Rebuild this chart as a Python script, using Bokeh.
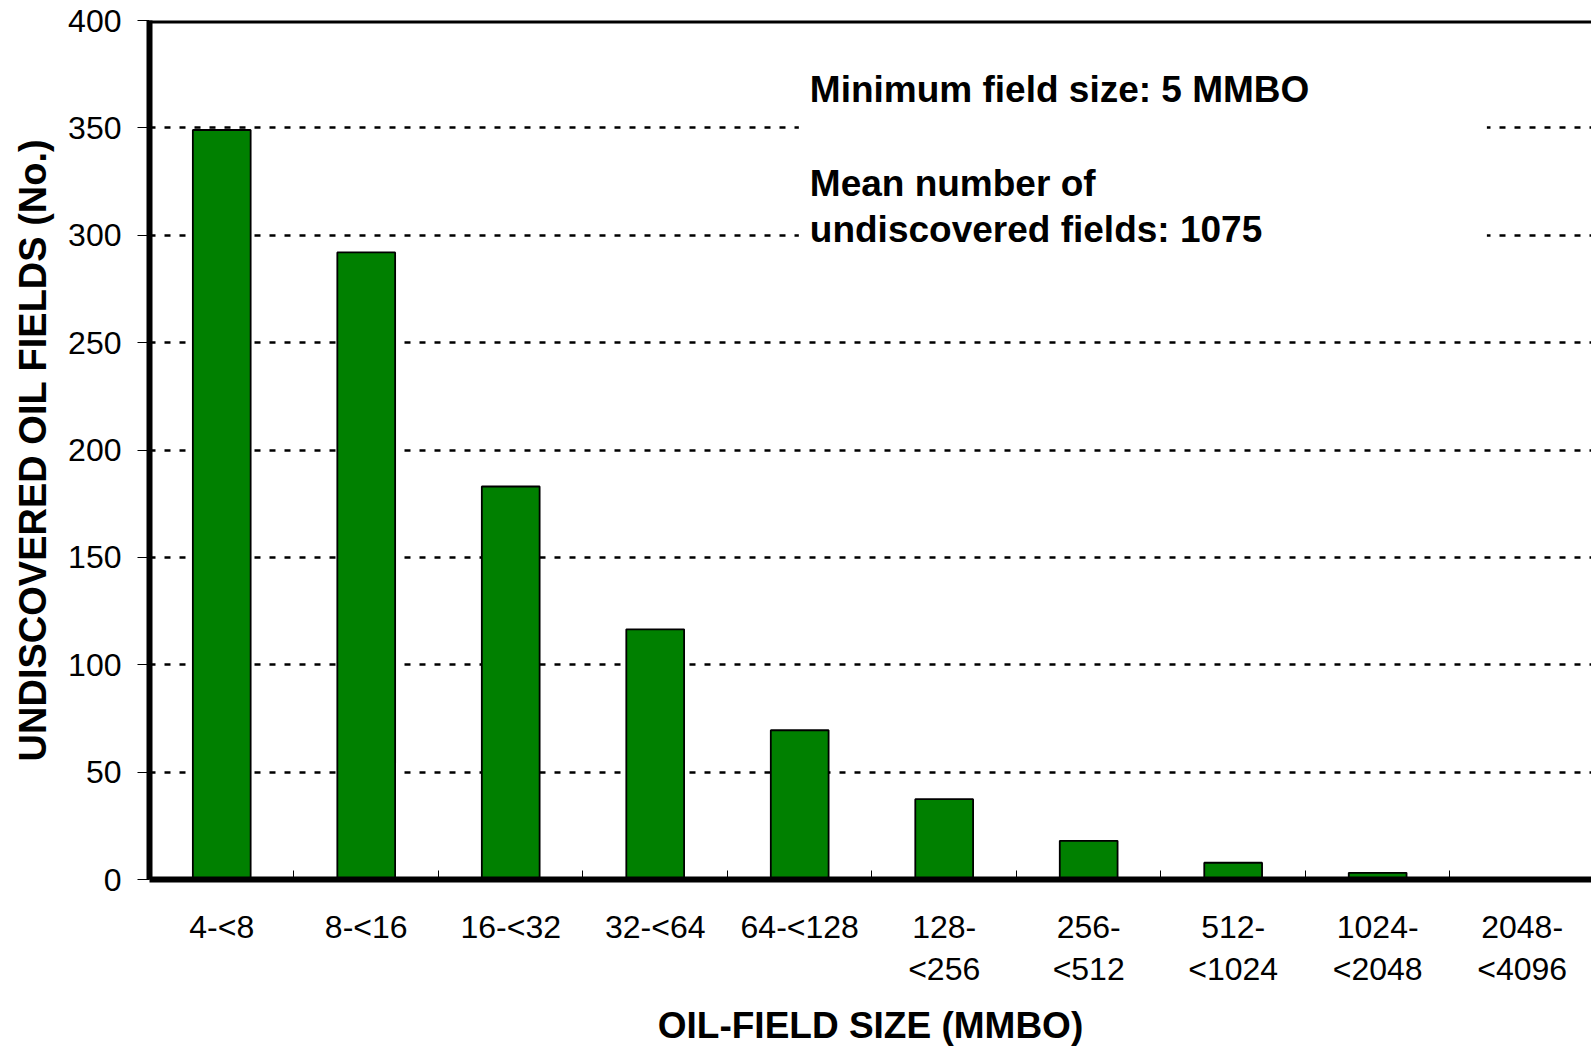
from bokeh.plotting import figure
from bokeh.models import Range1d, FixedTicker, LinearAxis, BoxAnnotation, Label, Span
from bokeh.embed import file_html
from bokeh.resources import INLINE

# ---- data -------------------------------------------------------------
categories = ["4-<8", "8-<16", "16-<32", "32-<64", "64-<128",
              "128-\n<256", "256-\n<512", "512-\n<1024", "1024-\n<2048", "2048-\n<4096"]
field_counts = [349, 292, 183, 116.5, 69.5, 37.4, 18, 7.8, 3.1, 0]
y_ticks = [0, 50, 100, 150, 200, 250, 300, 350, 400]
x_title = "OIL-FIELD SIZE (MMBO)"
y_title = "UNDISCOVERED OIL FIELDS (No.)"
note_lines = ["Minimum field size: 5 MMBO", "Mean number of", "undiscovered fields: 1075"]
note_y = [368, 324, 302.5]

FONT = "Liberation Sans"
n = len(categories)
centers = [i + 0.5 for i in range(n)]
bounds = [float(i) for i in range(1, n)]
first_lines = {c: lab.split("\n")[0] for c, lab in zip(centers, categories)}
second_lines = {c: lab.split("\n")[1] for c, lab in zip(centers, categories) if "\n" in lab}

p = figure(width=1591, height=1048,
           x_range=Range1d(0, 9.98), y_range=Range1d(0, 400),
           output_backend="svg", toolbar_location=None,
           min_border_left=149, min_border_right=0, min_border_top=20, min_border_bottom=0)
p.outline_line_color = None
p.background_fill_color = "white"
p.border_fill_color = "white"

# grid
p.xgrid.visible = False
p.ygrid.grid_line_color = "black"
p.ygrid.grid_line_width = 2.5
p.ygrid.grid_line_dash = "6 9"

# bars
p.vbar(x=centers, top=field_counts, bottom=0, width=0.4,
       fill_color="#008000", line_color="black", line_width=1.8)

# y axis
ya = p.yaxis[0]
ya.ticker = FixedTicker(ticks=y_ticks)
ya.axis_line_width = 6
ya.axis_line_color = "black"
ya.major_tick_out = 12
ya.major_tick_in = 0
ya.major_tick_line_color = "black"
ya.minor_tick_line_color = None
ya.major_label_standoff = 16
ya.major_label_text_font = FONT
ya.major_label_text_font_size = "32px"
ya.major_label_text_color = "black"
ya.axis_label = y_title
ya.axis_label_text_font = FONT
ya.axis_label_text_font_style = "bold"
ya.axis_label_text_font_size = "38px"
ya.axis_label_text_color = "black"
ya.axis_label_standoff = 11

# x axis: first label line + boundary ticks
xa = p.xaxis[0]
xa.ticker = FixedTicker(ticks=centers, minor_ticks=bounds)
xa.major_label_overrides = first_lines
xa.axis_line_width = 6
xa.axis_line_color = "black"
xa.major_tick_line_color = None
xa.major_tick_in = 0
xa.major_tick_out = 0
xa.minor_tick_in = 9
xa.minor_tick_out = 0
xa.minor_tick_line_color = "black"
xa.major_label_standoff = 29
xa.major_label_text_font = FONT
xa.major_label_text_font_size = "32px"
xa.major_label_text_color = "black"

# second x axis: second label line + axis title
xa2 = LinearAxis(ticker=FixedTicker(ticks=list(second_lines.keys())),
                 major_label_overrides=second_lines,
                 axis_line_color=None, major_tick_line_color=None, minor_tick_line_color=None,
                 major_tick_in=0, major_tick_out=0, minor_tick_in=0, minor_tick_out=0,
                 major_label_standoff=3,
                 major_label_text_font=FONT, major_label_text_font_size="32px",
                 major_label_text_color="black",
                 axis_label=x_title, axis_label_text_font=FONT,
                 axis_label_text_font_style="bold", axis_label_text_font_size="37px",
                 axis_label_text_color="black", axis_label_standoff=15)
p.add_layout(xa2, "below")

# top border
p.add_layout(Span(location=400, dimension="width", line_color="black", line_width=6))

# white box behind notes
p.add_layout(BoxAnnotation(left=4.494, right=9.256, bottom=270, top=392,
                           fill_color="white", fill_alpha=1.0, line_color=None))

for txt, yy in zip(note_lines, note_y):
    p.add_layout(Label(x=4.57, y=yy, text=txt, text_font=FONT, text_font_style="bold",
                       text_font_size="37px", text_color="black", text_baseline="alphabetic"))

open("out.html", "w").write(file_html(p, INLINE))
